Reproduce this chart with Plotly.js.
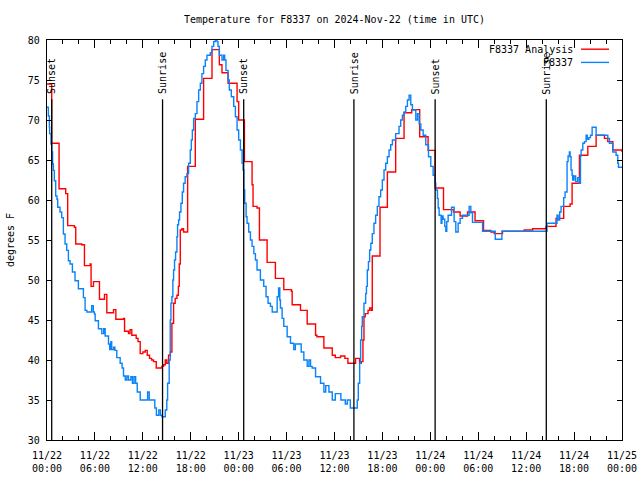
<!DOCTYPE html>
<html>
<head>
<meta charset="utf-8">
<script src="https://cdn.plot.ly/plotly-3.0.1.min.js"></script>
<style>html,body{margin:0;padding:0;background:#fff;}#chart{width:640px;height:480px;}</style>
</head>
<body>
<div id="chart"></div>
<script>
// ---- data (hours since 2024-11-22 00:00 UTC, temperatures in degrees F) ----
const startUTC = Date.UTC(2024, 10, 22, 0, 0, 0);

const analysisHours = [0,0.59,1.51,2.34,2.59,3.43,3.6,4.35,4.69,5.4,5.52,5.82,6.57,7.2,7.49,8.33,8.62,9.58,9.71,
  10.2,10.4,10.62,11.17,11.4,11.67,12.0,12.3,12.55,12.84,13.1,13.34,13.68,14.39,14.6,14.81,15.0,15.22,15.45,15.64,15.85,
  16.05,16.27,16.45,16.56,16.69,16.9,17.1,17.61,18.57,19.61,20.66,21.58,21.91,22.67,23.8,24.0,24.72,25.68,25.8,26.3,
  26.6,27.56,28.6,29.65,30.6,30.7,31.74,32.58,33.63,33.8,34.67,35.72,36.1,36.76,37.3,37.68,38.64,39.14,39.35,39.56,
  39.69,39.85,40.2,40.4,40.6,40.73,41.7,42.62,43.66,44.71,45.67,46.67,47.72,48.6,49.65,50.9,51.73,52.66,53.6,54.66,
  55.58,56.0,57.04,59.76,60.81,62.5,63.74,64.7,65.5,65.75,66.67,67.72,68.76,69.8,70.22,70.85,72.0];
const analysisTemps = [74.5,67.1,61.4,60.8,56.8,56.6,54.5,54.4,51.8,52.0,49.2,49.8,47.6,48.2,45.9,46.3,45.1,45.2,43.6,
  43.3,43.8,43.1,42.7,42.3,40.8,41.0,41.2,40.6,40.2,40.0,39.8,39.0,39.2,39.4,40.0,39.6,40.6,41.0,44.6,47.1,
  47.7,48.1,49.2,52.0,56.25,56.4,56.0,64.2,70.1,75.2,78.8,76.9,75.9,74.6,72.3,70.0,64.8,61.9,59.2,59.0,
  55.0,52.2,50.2,48.8,48.6,46.9,46.2,44.5,43.1,42.9,41.5,40.6,40.3,40.5,40.2,39.6,40.2,39.6,39.8,42.5,
  45.4,45.8,46.2,46.5,46.2,53.0,59.1,63.5,67.7,70.9,71.3,67.9,66.2,61.5,58.8,58.5,58.0,58.5,57.4,56.2,
  56.0,55.8,56.1,56.25,56.4,56.7,57.7,59.2,59.5,62.1,65.6,66.7,68.1,67.7,67.3,66.25,66.0];

const stationHours = [0,0.17,0.3,0.33,0.5,0.59,0.7,0.8,0.92,1.09,1.25,1.34,1.63,1.84,2.05,2.26,2.47,2.68,2.89,3.18,
  3.51,3.93,4.56,4.77,5.0,5.6,5.8,5.94,6.03,6.44,6.86,7.1,7.28,7.7,7.85,8.0,8.1,8.33,8.5,8.74,
  9.16,9.4,9.58,9.8,10.0,10.2,10.5,10.7,10.9,11.1,11.3,11.67,12.6,12.8,13.5,13.7,14.0,14.2,14.4,14.81,
  15.0,15.1,15.3,15.43,15.52,15.64,15.76,15.85,15.97,16.1,16.27,16.35,16.48,16.6,16.77,16.94,17.1,17.3,17.52,17.73,
  17.94,18.07,18.2,18.36,18.57,18.78,18.99,19.2,19.4,19.61,19.82,20.03,20.45,20.66,20.87,21.08,21.29,21.41,21.58,21.91,
  22.12,22.25,22.41,22.67,22.83,23.08,23.38,23.59,23.8,24.0,24.22,24.43,24.55,24.64,24.76,24.93,25.05,25.26,25.47,25.68,
  25.9,26.1,26.3,26.72,27.14,27.43,27.68,27.98,28.2,28.82,29.0,29.15,29.23,29.44,29.65,30.07,30.49,30.9,31.1,31.83,
  32.16,32.58,32.8,33.0,33.2,33.63,34.25,34.67,34.9,35.3,35.72,36.1,36.5,36.8,37.35,37.6,37.98,38.85,38.98,39.15,
  39.27,39.4,39.48,39.69,39.9,40.0,40.11,40.25,40.4,40.55,40.73,40.94,41.15,41.36,41.57,41.78,41.99,42.2,42.41,42.62,
  42.83,43.04,43.25,43.66,44.08,44.29,44.5,44.71,44.92,45.13,45.34,45.55,45.76,46.18,46.39,46.6,46.81,47.1,47.43,47.77,
  48.06,48.35,48.6,48.68,48.89,48.98,49.1,49.35,49.45,49.6,49.81,49.94,50.06,50.23,50.65,50.98,51.19,51.48,51.73,52.03,
  52.86,53.07,53.28,54.54,56.13,56.96,62.61,63.86,64.0,64.2,64.37,64.7,64.87,65.12,65.25,65.41,65.5,65.62,65.75,65.83,
  66.0,66.2,66.45,66.67,66.8,66.88,67.09,67.3,67.51,67.65,67.85,68.05,68.26,68.76,70.22,70.43,70.85,71.26,71.47,71.56,72.0];
const stationTemps = [71.6,70.5,69.1,68.3,67.0,66.0,64.5,63.7,62.4,60.5,60.1,59.1,58.5,57.8,55.75,54.5,53.7,52.4,52.0,51.0,
  49.9,48.9,47.8,46.2,46.0,46.8,46.0,45.75,44.9,43.9,43.3,43.9,43.0,42.0,41.3,42.3,41.3,41.6,41.2,40.3,
  39.6,39.0,38.0,37.5,38.0,37.5,37.9,37.1,37.9,37.1,36.0,35.0,36.0,35.0,34.0,33.1,33.75,33.1,32.9,33.75,
  35.0,37.1,40.0,45.0,47.1,47.9,50.0,51.25,52.5,53.5,55.4,56.9,57.5,58.5,59.6,61.0,62.1,62.9,63.3,64.6,
  66.25,67.5,68.75,70.2,70.8,72.3,73.75,74.6,75.8,76.7,77.5,78.1,78.4,79.2,79.8,80.0,79.8,79.2,78.1,77.5,
  78.1,77.5,76.2,75.0,73.75,72.9,71.7,70.4,68.75,67.5,66.25,64.6,63.75,61.25,59.6,57.9,57.1,56.0,55.0,54.2,
  53.3,52.5,51.25,50.0,49.2,47.9,47.1,46.7,46.0,47.9,49.0,47.5,46.5,45.2,44.2,42.9,42.1,41.3,42.0,41.0,
  40.0,39.2,40.0,39.2,39.0,37.9,37.1,36.0,36.8,36.0,35.0,35.8,35.8,35.0,34.5,35.0,34.0,35.0,37.1,39.6,
  42.5,44.2,45.4,47.1,48.3,49.2,51.25,52.3,53.75,54.6,55.8,57.1,58.1,59.2,60.4,61.25,62.5,63.75,64.6,65.4,
  66.25,66.9,67.5,68.3,69.2,70.0,70.6,71.0,71.7,72.5,73.1,71.9,71.25,70.0,70.8,69.5,68.75,68.1,66.9,65.4,
  64.2,63.1,62.1,61.25,60.2,59.0,58.1,57.1,58.0,57.6,56.7,56.1,57.3,58.1,59.1,57.3,56.0,57.1,57.7,58.1,
  59.2,58.4,57.2,56.1,55.1,56.1,57.1,58.1,57.5,58.5,59.2,60.3,61.0,64.8,65.5,66.0,65.4,63.75,63.1,62.5,
  63.0,62.3,62.8,62.1,65.5,66.25,67.1,67.3,68.1,67.6,67.8,68.1,69.1,68.1,67.7,67.1,66.0,65.6,64.6,64.1,64.1];

const sunHours = [0.59, 14.47, 24.63, 38.43, 48.6, 62.52];
const sunLabels = ['Sunset', 'Sunrise', 'Sunset', 'Sunrise', 'Sunset', 'Sunrise'];

const tickHours = [0, 6, 12, 18, 24, 30, 36, 42, 48, 54, 60, 66, 72];
const tickLabels = ['11/22<br>00:00','11/22<br>06:00','11/22<br>12:00','11/22<br>18:00',
  '11/23<br>00:00','11/23<br>06:00','11/23<br>12:00','11/23<br>18:00',
  '11/24<br>00:00','11/24<br>06:00','11/24<br>12:00','11/24<br>18:00','11/25<br>00:00'];

const seriesNames = ['F8337 Analysis', 'F8337'];
const seriesColors = ['#ff0000', '#0a82fa'];

// ---- helpers ----
function hToDate(h) {
  return new Date(startUTC + h * 3600000).toISOString().slice(0, 19).replace('T', ' ');
}

const FONT = 'DejaVu Sans Mono, Liberation Mono, monospace';

const traces = [
  {x: analysisHours.map(hToDate), y: analysisTemps, name: seriesNames[0], type: 'scatter', mode: 'lines',
   line: {color: seriesColors[0], width: 1.4, shape: 'hv'}, showlegend: false},
  {x: stationHours.map(hToDate), y: stationTemps, name: seriesNames[1], type: 'scatter', mode: 'lines',
   line: {color: seriesColors[1], width: 1.4, shape: 'hv'}, showlegend: false}
];

const shapes = [];
const annotations = [];
sunHours.forEach((h, i) => {
  shapes.push({type: 'line', xref: 'x', yref: 'y', x0: hToDate(h), x1: hToDate(h), y0: 30, y1: 72.6,
    line: {color: '#000', width: 1.3}});
  annotations.push({x: hToDate(h), y: 72.95, xref: 'x', yref: 'y', text: sunLabels[i], textangle: -90,
    showarrow: false, xanchor: 'center', yanchor: 'bottom', font: {family: FONT, size: 10, color: '#000'}});
});

// manual gnuplot-style key (text left, sample right)
const keyY = [0.977, 0.944];
seriesNames.forEach((n, i) => {
  annotations.push({x: 0.918, y: keyY[i], xref: 'paper', yref: 'paper', text: n, showarrow: false,
    xanchor: 'right', yanchor: 'middle', font: {family: FONT, size: 10, color: '#000'}});
  shapes.push({type: 'line', xref: 'paper', yref: 'paper', x0: 0.9287, x1: 0.9774, y0: keyY[i], y1: keyY[i],
    line: {color: seriesColors[i], width: 1.4}});
});

const layout = {
  width: 640, height: 480,
  margin: {l: 47, r: 18, t: 40, b: 40, pad: 0},
  paper_bgcolor: '#fff', plot_bgcolor: '#fff',
  font: {family: FONT, size: 10, color: '#000'},
  title: {text: 'Temperature for F8337 on 2024-Nov-22 (time in UTC)', x: 0.5, xref: 'paper',
    y: 1 - 19 / 480, yanchor: 'middle', font: {family: FONT, size: 10, color: '#000'}},
  xaxis: {
    type: 'date', range: [hToDate(0), hToDate(72)],
    tickmode: 'array', tickvals: tickHours.map(hToDate), ticktext: tickLabels,
    ticks: 'inside', ticklen: 8, tickwidth: 1, tickcolor: '#000',
    minor: {tickmode: 'linear', tick0: hToDate(0), dtick: 7200000, ticks: 'inside', ticklen: 4, tickcolor: '#000', showgrid: false},
    showline: true, linecolor: '#000', linewidth: 1.3, mirror: 'allticks',
    showgrid: false, zeroline: false, tickfont: {family: FONT, size: 10, color: '#000'},
    ticklabelstandoff: 6
  },
  yaxis: {
    range: [30, 80], tickmode: 'linear', tick0: 30, dtick: 5,
    ticks: 'inside', ticklen: 5, tickwidth: 1, tickcolor: '#000',
    showline: true, linecolor: '#000', linewidth: 1.3, mirror: 'allticks',
    showgrid: false, zeroline: false, tickfont: {family: FONT, size: 10, color: '#000'},
    ticklabelstandoff: 4,
    title: {text: 'degrees F', font: {family: FONT, size: 10, color: '#000'}, standoff: 11}
  },
  shapes: shapes,
  annotations: annotations,
  showlegend: false
};

Plotly.newPlot('chart', traces, layout, {staticPlot: true, displayModeBar: false});
</script>
</body>
</html>
